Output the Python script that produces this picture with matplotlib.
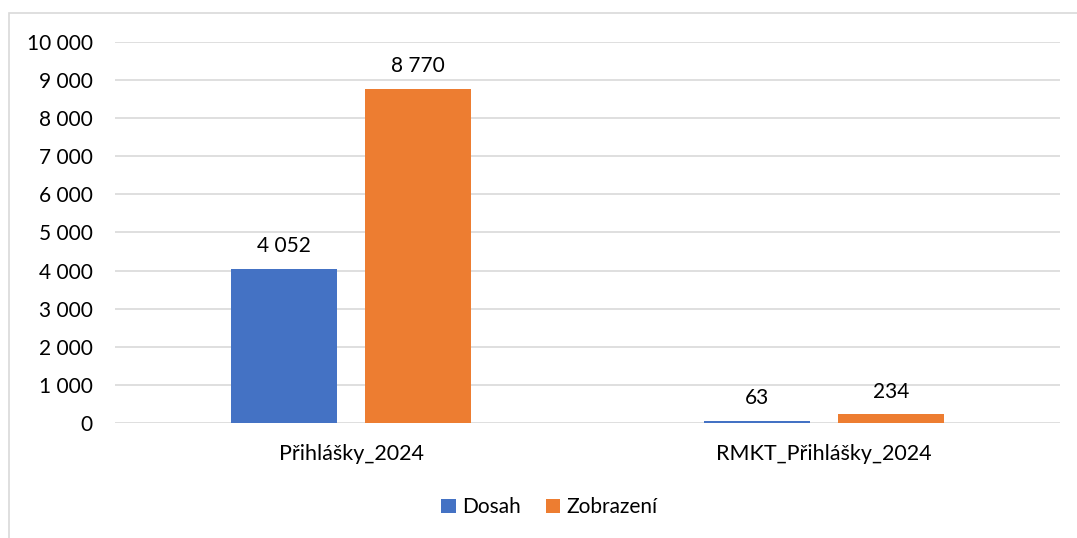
import numpy as np
import matplotlib.pyplot as plt
from matplotlib.patches import Rectangle

# chart data
categories = ["Přihlášky_2024", "RMKT_Přihlášky_2024"]
dosah = [4052, 63]
zobrazeni = [8770, 234]
series_names = ["Dosah", "Zobrazení"]
yticks = list(range(0, 10001, 1000))

plt.rcParams['font.family'] = ['Lato', 'DejaVu Sans']

def fmt(v):
    return "{:,}".format(v).replace(",", " ")

fig = plt.figure(figsize=(10.77, 5.38), dpi=100)
ax = fig.add_axes([0.1068, 0.2138, 0.8774, 0.7081])

# outer chart frame (only left/top visible in the crop)
fig.patches.append(Rectangle((9 / 1077, -0.1), 1.2, 1 - 13 / 538 + 0.1,
                             transform=fig.transFigure, fill=False,
                             edgecolor="#d9d9d9", linewidth=1.2))

x = np.arange(len(categories))
w = 0.224
off = 0.142
b1 = ax.bar(x - off, dosah, w, color="#4472C4", label=series_names[0], zorder=3)
b2 = ax.bar(x + off, zobrazeni, w, color="#ED7D31", label=series_names[1], zorder=3)

for bars in (b1, b2):
    for r in bars:
        ax.annotate(fmt(int(r.get_height())), (r.get_x() + r.get_width() / 2, r.get_height()),
                    xytext=(0, 9), textcoords="offset points", ha="center", va="bottom",
                    fontsize=15, color="#000000")

ax.set_xlim(-0.5, 1.5)
ax.set_ylim(0, 10000)
ax.set_yticks(yticks)
ax.set_yticklabels([fmt(v) for v in yticks], fontsize=15)
ax.set_xticks(x)
ax.set_xticklabels(categories, fontsize=15.5)
ax.tick_params(axis="y", length=0, pad=16)
ax.tick_params(axis="x", length=0, pad=15)
ax.yaxis.grid(True, color="#d9d9d9", linewidth=1.2, zorder=0)
for s in ax.spines.values():
    s.set_visible(False)

fig.legend(loc="center", bbox_to_anchor=(0.51, 0.057), ncol=2, frameon=False,
           fontsize=15, handlelength=0.7, handleheight=0.7, handletextpad=0.3,
           columnspacing=1.2)

fig.savefig("out.png", dpi=100, facecolor="white")
